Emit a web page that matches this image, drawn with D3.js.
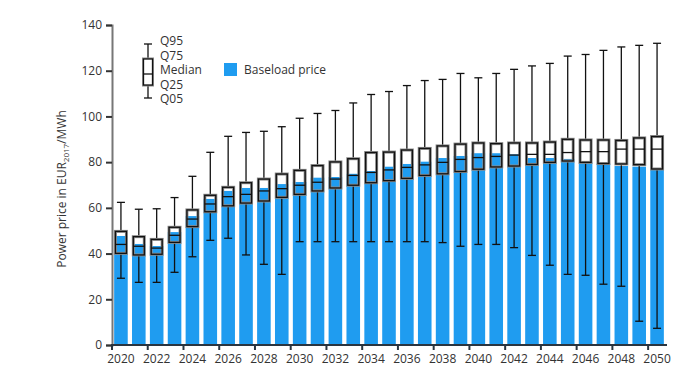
<!DOCTYPE html>
<html>
<head>
<meta charset="utf-8">
<script src="https://cdn.jsdelivr.net/npm/d3@7"></script>
<style>
  body { margin: 0; background: #fff; }
  text { font-family: "Open Sans", "Noto Sans", sans-serif; fill: #333; }
</style>
</head>
<body>
<svg id="chart" width="685" height="386"></svg>
<script>
// data
var years = d3.range(2020, 2051);
var baseload = [47.7, 44.2, 43.3, 49.4, 56.4, 63.9, 67.4, 68.7, 68.7, 70.4,
  71.3, 73.2, 73.5, 74.9, 76.1, 78.0, 79.2, 80.2, 81.8, 82.7,
  83.9, 83.9, 83.4, 81.8, 81.8, 81.4, 79.9, 79.4, 78.3, 78.0, 76.6];
var q95 = [62.4, 59.4, 59.6, 64.5, 73.8, 84.3, 91.3, 93.0, 93.5, 95.5,
  99.2, 101.3, 102.6, 105.9, 109.6, 110.9, 113.5, 115.7, 116.2, 118.8,
  116.9, 118.8, 120.6, 122.1, 123.2, 126.4, 127.1, 128.9, 130.4, 131.1, 132.0];
var q75 = [49.7, 47.4, 46.2, 51.5, 59.1, 65.5, 69.0, 71.0, 72.6, 74.8,
  76.4, 78.5, 80.1, 81.5, 84.2, 84.4, 85.3, 86.0, 87.1, 87.9,
  88.4, 88.1, 88.4, 88.4, 88.8, 90.0, 89.7, 89.7, 89.5, 90.6, 91.2];
var median = [44.0, 43.2, 42.4, 48.0, 55.1, 61.7, 64.9, 65.9, 67.4, 68.4,
  69.9, 71.2, 72.6, 74.2, 75.5, 76.6, 77.7, 78.8, 79.9, 81.2,
  82.0, 82.5, 83.1, 83.4, 83.4, 84.2, 84.6, 84.6, 85.7, 85.7, 85.7];
var q25 = [40.1, 39.4, 39.7, 44.9, 51.8, 58.3, 60.9, 62.1, 63.0, 64.6,
  65.9, 67.4, 68.7, 69.9, 71.0, 71.9, 72.9, 74.2, 74.9, 75.9,
  76.9, 77.9, 78.3, 79.0, 79.9, 80.5, 79.9, 79.4, 79.2, 78.9, 77.0];
var q05 = [29.2, 27.4, 27.4, 31.8, 38.6, 45.8, 46.7, 39.4, 35.3, 30.9,
  45.2, 45.2, 45.2, 45.2, 45.2, 45.2, 45.2, 45.2, 44.8, 43.2,
  44.0, 44.0, 42.6, 39.2, 34.9, 30.9, 30.5, 26.6, 25.7, 10.4, 7.3];
var yTicks = [0, 20, 40, 60, 80, 100, 120, 140];
var xLabels = d3.range(2020, 2051, 2);

var rows = years.map(function(y, i) {
  return { year: y, base: baseload[i], q95: q95[i], q75: q75[i], med: median[i], q25: q25[i], q05: q05[i] };
});

var svg = d3.select('#chart');
var x = d3.scaleBand().domain(years).range([112, 666]).paddingInner(0.24).paddingOuter(0.12);
var y = d3.scaleLinear().domain([0, 140]).range([345, 25]);

var blue = '#1f9cf0';
var ink = '#111';

// bars
svg.append('g').selectAll('rect').data(rows).enter().append('rect')
  .attr('x', function(d) { return x(d.year); })
  .attr('y', function(d) { return y(d.base); })
  .attr('width', x.bandwidth())
  .attr('height', function(d) { return y(0) - y(d.base); })
  .attr('fill', blue);

// box plots
var bw = 11, cw = 8;
var box = svg.append('g').selectAll('g').data(rows).enter().append('g')
  .attr('transform', function(d) { return 'translate(' + (x(d.year) + x.bandwidth() / 2) + ',0)'; });
box.append('line')
  .attr('y1', function(d) { return y(d.q95); }).attr('y2', function(d) { return y(d.q75); })
  .attr('stroke', ink).attr('stroke-width', 1.3);
box.append('line')
  .attr('y1', function(d) { return y(d.q25); }).attr('y2', function(d) { return y(d.q05); })
  .attr('stroke', ink).attr('stroke-width', 1.3);
box.append('line').attr('x1', -cw / 2).attr('x2', cw / 2)
  .attr('y1', function(d) { return y(d.q95); }).attr('y2', function(d) { return y(d.q95); })
  .attr('stroke', ink).attr('stroke-width', 1.3);
box.append('line').attr('x1', -cw / 2).attr('x2', cw / 2)
  .attr('y1', function(d) { return y(d.q05); }).attr('y2', function(d) { return y(d.q05); })
  .attr('stroke', ink).attr('stroke-width', 1.3);
box.append('rect').attr('x', -bw / 2).attr('width', bw)
  .attr('y', function(d) { return y(d.q75); })
  .attr('height', function(d) { return y(d.q25) - y(d.q75); })
  .attr('fill', 'none').attr('stroke', '#8a8a8a').attr('stroke-width', 3);
box.append('rect').attr('x', -bw / 2).attr('width', bw)
  .attr('y', function(d) { return y(d.q75); })
  .attr('height', function(d) { return y(d.q25) - y(d.q75); })
  .attr('fill', 'none').attr('stroke', ink).attr('stroke-width', 1.3);
box.append('line').attr('x1', -bw / 2).attr('x2', bw / 2)
  .attr('y1', function(d) { return y(d.med); }).attr('y2', function(d) { return y(d.med); })
  .attr('stroke', ink).attr('stroke-width', 1.3);

// y axis
var yAxis = svg.append('g').attr('transform', 'translate(112,0)')
  .call(d3.axisLeft(y).tickValues(yTicks).tickSize(6).tickPadding(4));
yAxis.select('.domain').attr('stroke', '#777').attr('stroke-width', 2);
yAxis.selectAll('.tick line').attr('stroke', '#333').attr('stroke-width', 2);
yAxis.selectAll('.tick text').style('font-size', '12px').style('font-family', '"Open Sans", sans-serif').attr('fill', '#333');

// x axis: ticks at band edges, labels on bar centres
var xg = svg.append('g').attr('transform', 'translate(0,' + y(0) + ')');
xg.append('line').attr('x1', 111).attr('x2', 667).attr('stroke', '#2a3540').attr('stroke-width', 2);
xg.selectAll('.xt').data(xLabels).enter().append('line')
  .attr('x1', function(d) { return x(d) - x.step() * 0.12; })
  .attr('x2', function(d) { return x(d) - x.step() * 0.12; })
  .attr('y1', 0).attr('y2', 5).attr('stroke', '#2a3540').attr('stroke-width', 2);
xg.selectAll('text').data(xLabels).enter().append('text')
  .attr('x', function(d) { return x(d) + x.bandwidth() / 2; })
  .attr('y', 18).attr('text-anchor', 'middle').style('font-size', '12px')
  .text(function(d) { return d; });

// y title
var title = svg.append('text').attr('transform', 'translate(66,189) rotate(-90)')
  .attr('text-anchor', 'middle').style('font-size', '12px');
title.append('tspan').text('Power price in EUR');
title.append('tspan').attr('dy', 3).style('font-size', '8px').text('2017');
title.append('tspan').attr('dy', -3).text('/MWh');

// legend
var lg = svg.append('g').attr('transform', 'translate(148,0)');
var ly = { q95: 44, q75: 59, med: 74, q25: 85, q05: 98 };
lg.append('line').attr('y1', ly.q95).attr('y2', ly.q05).attr('stroke', ink).attr('stroke-width', 1.3);
lg.append('line').attr('x1', -4).attr('x2', 4).attr('y1', ly.q95).attr('y2', ly.q95).attr('stroke', ink).attr('stroke-width', 1.3);
lg.append('line').attr('x1', -4).attr('x2', 4).attr('y1', ly.q05).attr('y2', ly.q05).attr('stroke', ink).attr('stroke-width', 1.3);
lg.append('rect').attr('x', -4.5).attr('width', 9).attr('y', ly.q75).attr('height', ly.q25 - ly.q75)
  .attr('fill', '#fff').attr('stroke', '#8a8a8a').attr('stroke-width', 3);
lg.append('rect').attr('x', -4.5).attr('width', 9).attr('y', ly.q75).attr('height', ly.q25 - ly.q75)
  .attr('fill', '#fff').attr('stroke', ink).attr('stroke-width', 1.3);
lg.append('line').attr('x1', -4.5).attr('x2', 4.5).attr('y1', ly.med).attr('y2', ly.med).attr('stroke', ink).attr('stroke-width', 1.3);
var legendLabels = ['Q95', 'Q75', 'Median', 'Q25', 'Q05'];
lg.selectAll('.ll').data(legendLabels).enter().append('text')
  .attr('x', 12).attr('y', function(d, i) { return 45 + i * 14.5; })
  .style('font-size', '12px').text(function(d) { return d; });

svg.append('rect').attr('x', 224).attr('y', 63).attr('width', 13).attr('height', 13).attr('fill', blue);
svg.append('text').attr('x', 244).attr('y', 74).style('font-size', '12px').text('Baseload price');
</script>
</body>
</html>
